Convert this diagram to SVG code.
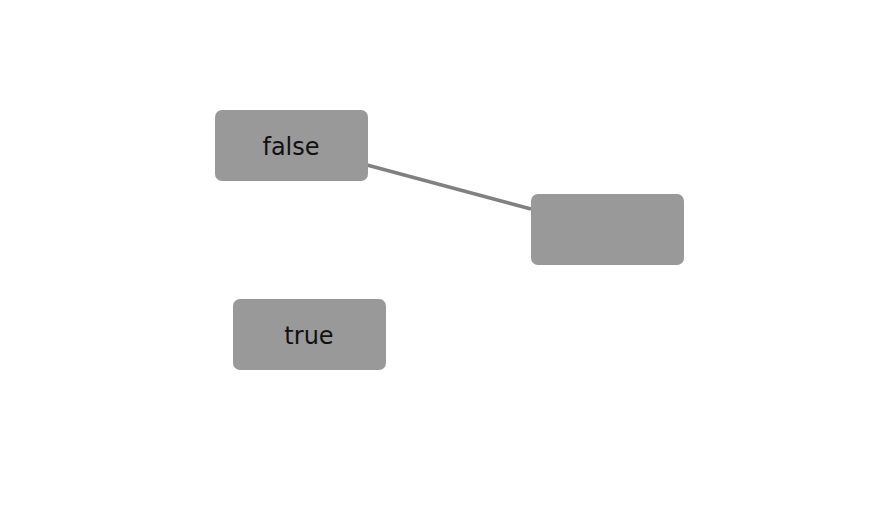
<svg xmlns="http://www.w3.org/2000/svg" width="888" height="510" viewBox="0 0 888 510">
<style>
.node rect{fill:#999999;}
.node text{font-family:"DejaVu Sans",sans-serif;font-size:24px;fill:#111111;text-anchor:middle;}
.edge{stroke:#808080;stroke-width:3.5;fill:none;}
</style>
<rect width="888" height="510" fill="#ffffff"/>
<g id="edges">
<line class="edge" x1="367" y1="165" x2="531" y2="209"/>
</g>
<g id="node-false" class="node">
<rect x="215" y="110" width="153" height="71" rx="7"/>
<text x="291" y="155">false</text>
</g>
<g id="node-empty" class="node">
<rect x="531" y="194" width="153" height="71" rx="7"/>
</g>
<g id="node-true" class="node">
<rect x="233" y="299" width="153" height="71" rx="7"/>
<text x="309" y="344">true</text>
</g>
</svg>
